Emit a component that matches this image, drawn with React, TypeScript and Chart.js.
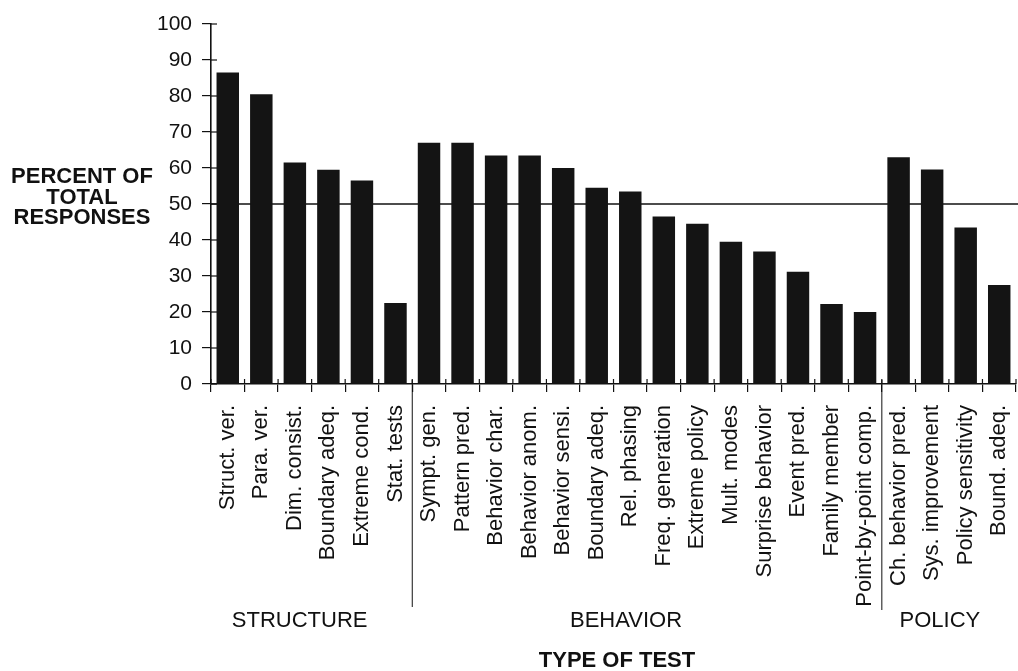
import React, { useEffect, useRef } from "react";
import { Chart, registerables } from "chart.js";

Chart.register(...registerables);

// ---- Data ----
const structureLabels = ["Struct. ver.", "Para. ver.", "Dim. consist.", "Boundary adeq.", "Extreme cond.", "Stat. tests"];
const structureValues = [86.5, 80.5, 61.5, 59.5, 56.5, 22.5];

const behaviorLabels = [
  "Sympt. gen.", "Pattern pred.", "Behavior char.", "Behavior anom.", "Behavior sensi.",
  "Boundary adeq.", "Rel. phasing", "Freq. generation", "Extreme policy", "Mult. modes",
  "Surprise behavior", "Event pred.", "Family member", "Point-by-point comp.",
];
const behaviorValues = [67, 67, 63.5, 63.5, 60, 54.5, 53.5, 46.5, 44.5, 39.5, 36.8, 31.2, 22.2, 20];

const policyLabels = ["Ch. behavior pred.", "Sys. improvement", "Policy sensitivity", "Bound. adeq."];
const policyValues = [63, 59.6, 43.5, 27.5];

const groupNames = ["STRUCTURE", "BEHAVIOR", "POLICY"];
const yTitleLines = ["PERCENT OF", "TOTAL", "RESPONSES"];
const xTitle = "TYPE OF TEST";
const referenceValue = 50;
const yMin = 0;
const yMax = 100;
const yStep = 10;

const FONT = "'Liberation Sans', Arial, Helvetica, sans-serif";

export default function App() {
  const canvasRef = useRef<HTMLCanvasElement | null>(null);

  useEffect(() => {
    const labels = [...structureLabels, ...behaviorLabels, ...policyLabels];
    const values = [...structureValues, ...behaviorValues, ...policyValues];
    const groupSizes = [structureLabels.length, behaviorLabels.length, policyLabels.length];
    const groupNudge = [-12, -21, -9];

    const overlay = {
      id: "overlay",
      beforeDatasetsDraw(chart: any) {
        const { ctx, chartArea, scales } = chart;
        const y = scales.y.getPixelForValue(referenceValue);
        ctx.save();
        ctx.strokeStyle = "#111";
        ctx.lineWidth = 1.6;
        ctx.beginPath();
        ctx.moveTo(chartArea.left, y);
        ctx.lineTo(chartArea.right + 2, y);
        ctx.stroke();
        ctx.restore();
      },
      afterDraw(chart: any) {
        const { ctx, chartArea, scales } = chart;
        const xs = scales.x;
        const ys = scales.y;
        const n = labels.length;
        const cw = (chartArea.right - chartArea.left) / n;
        const bottom = chartArea.bottom;
        ctx.save();
        ctx.strokeStyle = "#111";
        ctx.lineWidth = 1.2;
        for (let i = 0; i <= n; i++) {
          const x = chartArea.left + i * cw;
          ctx.beginPath();
          ctx.moveTo(x, bottom);
          ctx.lineTo(x, bottom - 5);
          ctx.stroke();
        }
        for (let v = yMin; v <= yMax; v += yStep) {
          const y = ys.getPixelForValue(v);
          ctx.beginPath();
          ctx.moveTo(chartArea.left, y);
          ctx.lineTo(chartArea.left + 6, y);
          ctx.stroke();
        }
        let start = 0;
        const seps: number[] = [];
        groupSizes.forEach((s, gi) => {
          if (gi > 0) seps.push(start);
          start += s;
        });
        ctx.lineWidth = 1;
        seps.forEach((idx, k) => {
          const x = (xs.getPixelForValue(idx - 1) + xs.getPixelForValue(idx)) / 2;
          ctx.beginPath();
          ctx.moveTo(x, bottom - 4);
          ctx.lineTo(x, k === 0 ? 607 : 610);
          ctx.stroke();
        });
        ctx.fillStyle = "#111";
        ctx.font = `22px ${FONT}`;
        ctx.textAlign = "center";
        ctx.textBaseline = "middle";
        start = 0;
        groupSizes.forEach((s, gi) => {
          const x0 = xs.getPixelForValue(start);
          const x1 = xs.getPixelForValue(start + s - 1);
          ctx.fillText(groupNames[gi], (x0 + x1) / 2 + groupNudge[gi], 621);
          start += s;
        });
        ctx.font = `bold 22px ${FONT}`;
        ctx.fillText(xTitle, 617, 661);
        yTitleLines.forEach((t, i) => {
          ctx.fillText(t, 82, 177 + i * 20.5);
        });
        ctx.restore();
      },
    };

    const chart = new Chart(canvasRef.current as HTMLCanvasElement, {
      type: "bar",
      data: {
        labels,
        datasets: [
          {
            data: values,
            backgroundColor: "#141414",
            borderWidth: 0,
            categoryPercentage: 1,
            barPercentage: 0.67,
          },
        ],
      },
      options: {
        animation: false,
        responsive: true,
        maintainAspectRatio: false,
        layout: { padding: { left: 0, top: 24, right: 2, bottom: 0 } },
        plugins: { legend: { display: false }, tooltip: { enabled: false } },
        scales: {
          x: {
            offset: true,
            grid: { offset: true, drawOnChartArea: false, drawTicks: true, tickLength: 8, color: "#111", lineWidth: 1.2 },
            border: { display: true, color: "#111", width: 1.6 },
            ticks: {
              autoSkip: false,
              maxRotation: 90,
              minRotation: 90,
              padding: 13,
              color: "#111",
              font: { family: FONT, size: 22 },
            },
            afterFit: (scale: any) => {
              scale.height = 287;
              scale.paddingLeft = 0;
              scale.paddingRight = 0;
            },
          },
          y: {
            min: yMin,
            max: yMax,
            grid: { drawOnChartArea: false, drawTicks: true, tickLength: 9, color: "#111", lineWidth: 1.2 },
            border: { display: true, color: "#111", width: 1.6 },
            ticks: {
              stepSize: yStep,
              padding: 10,
              color: "#111",
              font: { family: FONT, size: 21 },
            },
            afterFit: (scale: any) => {
              scale.width = 211;
              scale.paddingTop = 0;
              scale.paddingBottom = 0;
            },
          },
        },
      },
      plugins: [overlay],
    });

    return () => chart.destroy();
  }, []);

  return (
    <div style={{ position: "absolute", left: 0, top: 0, width: 1018, height: 671, background: "#fff" }}>
      <canvas ref={canvasRef} />
    </div>
  );
}
